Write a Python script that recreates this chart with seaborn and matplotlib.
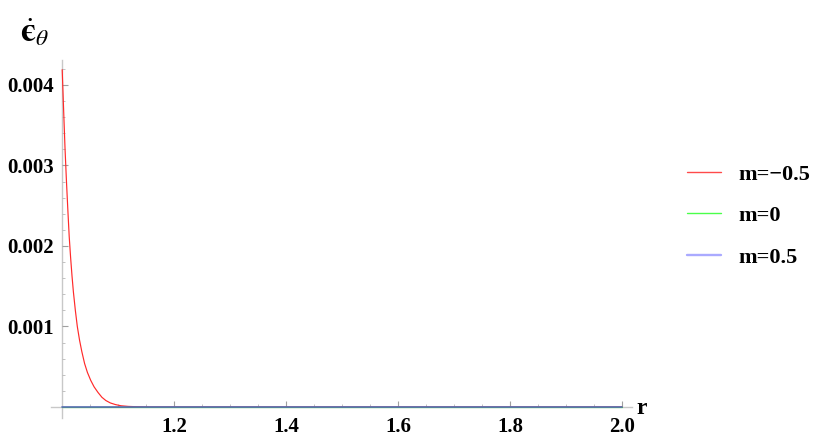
"""Strain-rate curve for three values of m, Mathematica-style axes."""
import numpy as np
import pandas as pd
import matplotlib
matplotlib.use('Agg')
import matplotlib.pyplot as plt
from matplotlib.lines import Line2D
import seaborn as sns

# values
r_neg = [1.0, 1.0025, 1.005, 1.0075, 1.010, 1.0125, 1.015, 1.0175, 1.020,
         1.0235, 1.027, 1.031, 1.035, 1.040, 1.045, 1.051, 1.057, 1.064,
         1.071, 1.078, 1.086, 1.095, 1.105, 1.118, 1.133, 1.150, 1.2, 2.0]
eps_neg = [0.00419, 0.00370, 0.00322, 0.00282, 0.00246, 0.00212, 0.00186,
           0.00163, 0.00143, 0.00120, 0.00100, 0.00083, 0.00069, 0.00054,
           0.00043, 0.00033, 0.00025, 0.00018, 0.00012, 0.00008, 0.00005,
           0.00003, 0.000015, 0.000007, 0.000003, 0.0000005, 0.0, 0.0]
r_zero = [1.0, 2.0]
eps_zero = [0.0, 0.0]
r_pos = [1.0, 2.0]
eps_pos = [0.0, 0.0]

labels = ['m=\u22120.5', 'm=0', 'm=0.5']
line_colors = ['#ff2a2a', '#30e030', '#5a6cb5']
legend_colors = ['#ff4a4a', '#4aff4a', '#aaaaff']

series = [pd.DataFrame({'r': r, 'eps': e}) for r, e in
          [(r_neg, eps_neg), (r_zero, eps_zero), (r_pos, eps_pos)]]

sns.set_style('white')
plt.rcParams['font.family'] = ['Liberation Serif', 'DejaVu Serif']
plt.rcParams['mathtext.fontset'] = 'stix'
plt.rcParams['text.color'] = 'black'

fig = plt.figure(figsize=(8.26, 4.47), dpi=100)
ax = fig.add_axes([51 / 826, 1 - 418 / 447, 581 / 826, 358 / 447])

for i, d in enumerate(series):
    sns.lineplot(data=d, x='r', y='eps', color=line_colors[i],
                 linewidth=[0.85, 0.85, 1.2][i], ax=ax, sort=False, zorder=3 + i)
ax.set_xlabel('')
ax.set_ylabel('')

ax.set_xlim(0.98, 2.018)
ax.set_ylim(-0.000137, 0.00431)

for side in ['top', 'right']:
    ax.spines[side].set_visible(False)
ax.spines['left'].set_position(('data', 1.0))
ax.spines['bottom'].set_position(('data', 0.0))
for side in ['left', 'bottom']:
    ax.spines[side].set_color('#c8c8c8')
    ax.spines[side].set_linewidth(1.0)
    ax.spines[side].set_zorder(0)

ax.set_xticks([1.2, 1.4, 1.6, 1.8, 2.0])
ax.set_xticklabels(['1.2', '1.4', '1.6', '1.8', '2.0'])
ax.set_xticks(np.arange(1.05, 2.0, 0.05), minor=True)
ax.set_yticks([0.001, 0.002, 0.003, 0.004])
ax.set_yticklabels(['0.001', '0.002', '0.003', '0.004'])
ax.set_yticks(np.arange(0.0002, 0.0043, 0.0002), minor=True)
ax.tick_params(which='both', bottom=True, left=True, top=False, right=False)
ax.tick_params(which='major', direction='in', length=4.5, width=0.8,
               color='#a0a0a0', labelsize=15, pad=6, labelcolor='black')
ax.tick_params(which='minor', direction='in', length=2.5, width=0.6,
               color='#b8b8b8')
ax.tick_params(axis='x', which='major', pad=7)
for t in ax.get_xticklabels() + ax.get_yticklabels():
    t.set_fontweight('bold')

fig.text(20 / 826, 1 - 33 / 447, '$\\dot{\\mathbf{\u03f5}}_{\\theta}$',
         fontsize=24, ha='left', va='center', color='black')
fig.text(636 / 826, 1 - 408 / 447, 'r', fontsize=17, fontweight='bold',
         ha='left', va='center', color='black')

handles = [Line2D([], [], color=c, lw=w) for c, w in zip(legend_colors, [1.0, 1.0, 1.7])]
fig.legend(handles, labels, loc='center left',
           bbox_to_anchor=(667 / 826, 1 - 216 / 447), frameon=False,
           prop={'weight': 'bold', 'size': 16}, handlelength=1.55,
           handletextpad=0.75, labelspacing=0.95, labelcolor='black')

fig.savefig('out.png', dpi=100)
